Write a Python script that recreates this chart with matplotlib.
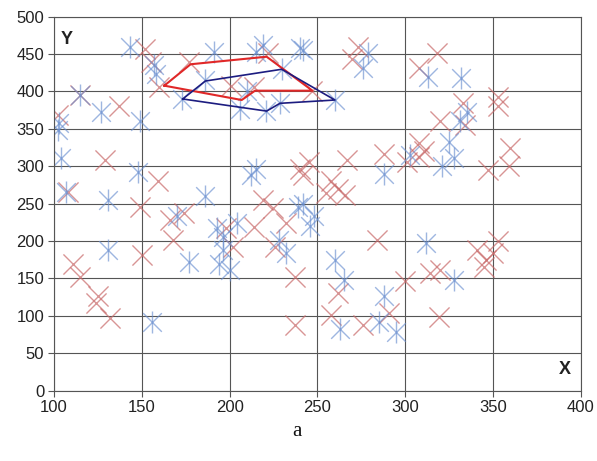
import matplotlib
matplotlib.use("Agg")
import matplotlib.pyplot as plt

plt.rcParams["font.family"] = ["Liberation Sans", "DejaVu Sans"]

COLORS = {
    "red": "#c86868",
    "blue": "#6a8fd0",
    "poly_red": "#e02828",
    "poly_blue": "#1c1c80",
    "grid": "#555555",
    "text": "#222222",
}

# red "x" points
red_x = [102, 115, 137, 129, 108, 111, 115, 125, 124, 132, 149, 150, 152, 155,
         159, 160, 166, 174, 168, 177, 198, 202, 214, 219, 225, 232, 226, 237,
         237, 222, 201, 214, 240, 242, 245, 267, 288, 258, 262, 266, 255, 247,
         270, 273, 284, 262, 258, 276, 291, 300, 319, 314, 320, 341, 346, 350,
         353, 345, 318, 308, 333, 334, 320, 353, 353, 308, 311, 301, 347, 360,
         359, 308]
red_y = [368, 395, 380, 308, 265, 170, 152, 126, 117, 97, 246, 181, 457, 440,
         281, 406, 228, 237, 201, 440, 217, 192, 219, 255, 244, 224, 192, 152,
         88, 451, 408, 406, 297, 288, 306, 309, 317, 280, 270, 262, 264, 401,
         444, 460, 201, 130, 101, 88, 104, 146, 99, 157, 161, 188, 175, 184,
         200, 165, 451, 431, 384, 355, 360, 393, 380, 331, 320, 306, 295, 325,
         300, 313]

# blue asterisk points
blue_x = [103, 102, 104, 107, 115, 127, 131, 131, 143, 148, 149, 156, 157, 158,
          170, 173, 177, 186, 186, 191, 193, 196, 196, 194, 200, 204, 206, 210,
          212, 215, 215, 219, 221, 228, 229, 230, 232, 239, 242, 248, 246, 242,
          240, 260, 260, 265, 263, 276, 279, 285, 288, 288, 295, 303, 312, 313,
          321, 325, 328, 328, 331, 332, 335]
blue_y = [358, 348, 311, 265, 395, 373, 255, 188, 459, 293, 360, 92, 435, 424,
          233, 390, 172, 260, 416, 453, 217, 206, 188, 170, 161, 224, 376, 400,
          288, 297, 453, 462, 374, 202, 385, 430, 184, 246, 249, 233, 220, 455,
          458, 389, 175, 148, 83, 431, 451, 92, 126, 290, 79, 315, 197, 420,
          300, 333, 311, 148, 360, 418, 373]

# polygons
poly_red_x = [162.8, 177.8, 221.1, 247.2, 214.5, 206.9, 162.8]
poly_red_y = [407.8, 436.4, 446.5, 401.1, 401.1, 388.6, 407.8]
poly_blue_x = [173.3, 186.2, 229.7, 260.0, 228.7, 221.1, 173.3]
poly_blue_y = [390.0, 414.0, 429.7, 388.6, 384.2, 373.8, 390.0]

fig, ax = plt.subplots(figsize=(5.97, 4.61), dpi=100)
fig.subplots_adjust(left=0.0905, right=0.9727, bottom=0.1525, top=0.9638)

ax.set_xlim(100, 400)
ax.set_ylim(0, 500)
ax.set_xticks(range(100, 401, 50))
ax.set_yticks(range(0, 501, 50))
ax.grid(True, color=COLORS["grid"], linewidth=0.8)
ax.set_axisbelow(True)
for s in ax.spines.values():
    s.set_color(COLORS["grid"])
    s.set_linewidth(0.8)
ax.tick_params(direction="out", length=4, width=0.8, color=COLORS["grid"],
               labelsize=12, labelcolor=COLORS["text"], pad=3)

ax.scatter(red_x, red_y, marker="x", s=210, color=COLORS["red"], alpha=0.7,
           linewidths=1.0)
ax.scatter(blue_x, blue_y, marker="x", s=180, color=COLORS["blue"], alpha=0.65,
           linewidths=1.0)
ax.scatter(blue_x, blue_y, marker="|", s=240, color=COLORS["blue"], alpha=0.65,
           linewidths=1.0)

ax.plot(poly_red_x, poly_red_y, color=COLORS["poly_red"], linewidth=1.5)
ax.plot(poly_blue_x, poly_blue_y, color=COLORS["poly_blue"], linewidth=1.2)

ax.text(107, 470, "Y", fontsize=13, fontweight="bold", color=COLORS["text"],
        va="center", ha="center")
ax.text(391, 28, "X", fontsize=13, fontweight="bold", color=COLORS["text"],
        va="center", ha="center")

fig.text(0.497, 0.064, "a", fontsize=15, family="Liberation Serif",
         ha="center", va="center", color="#111111")

fig.savefig("out.png", dpi=100, facecolor="white")
